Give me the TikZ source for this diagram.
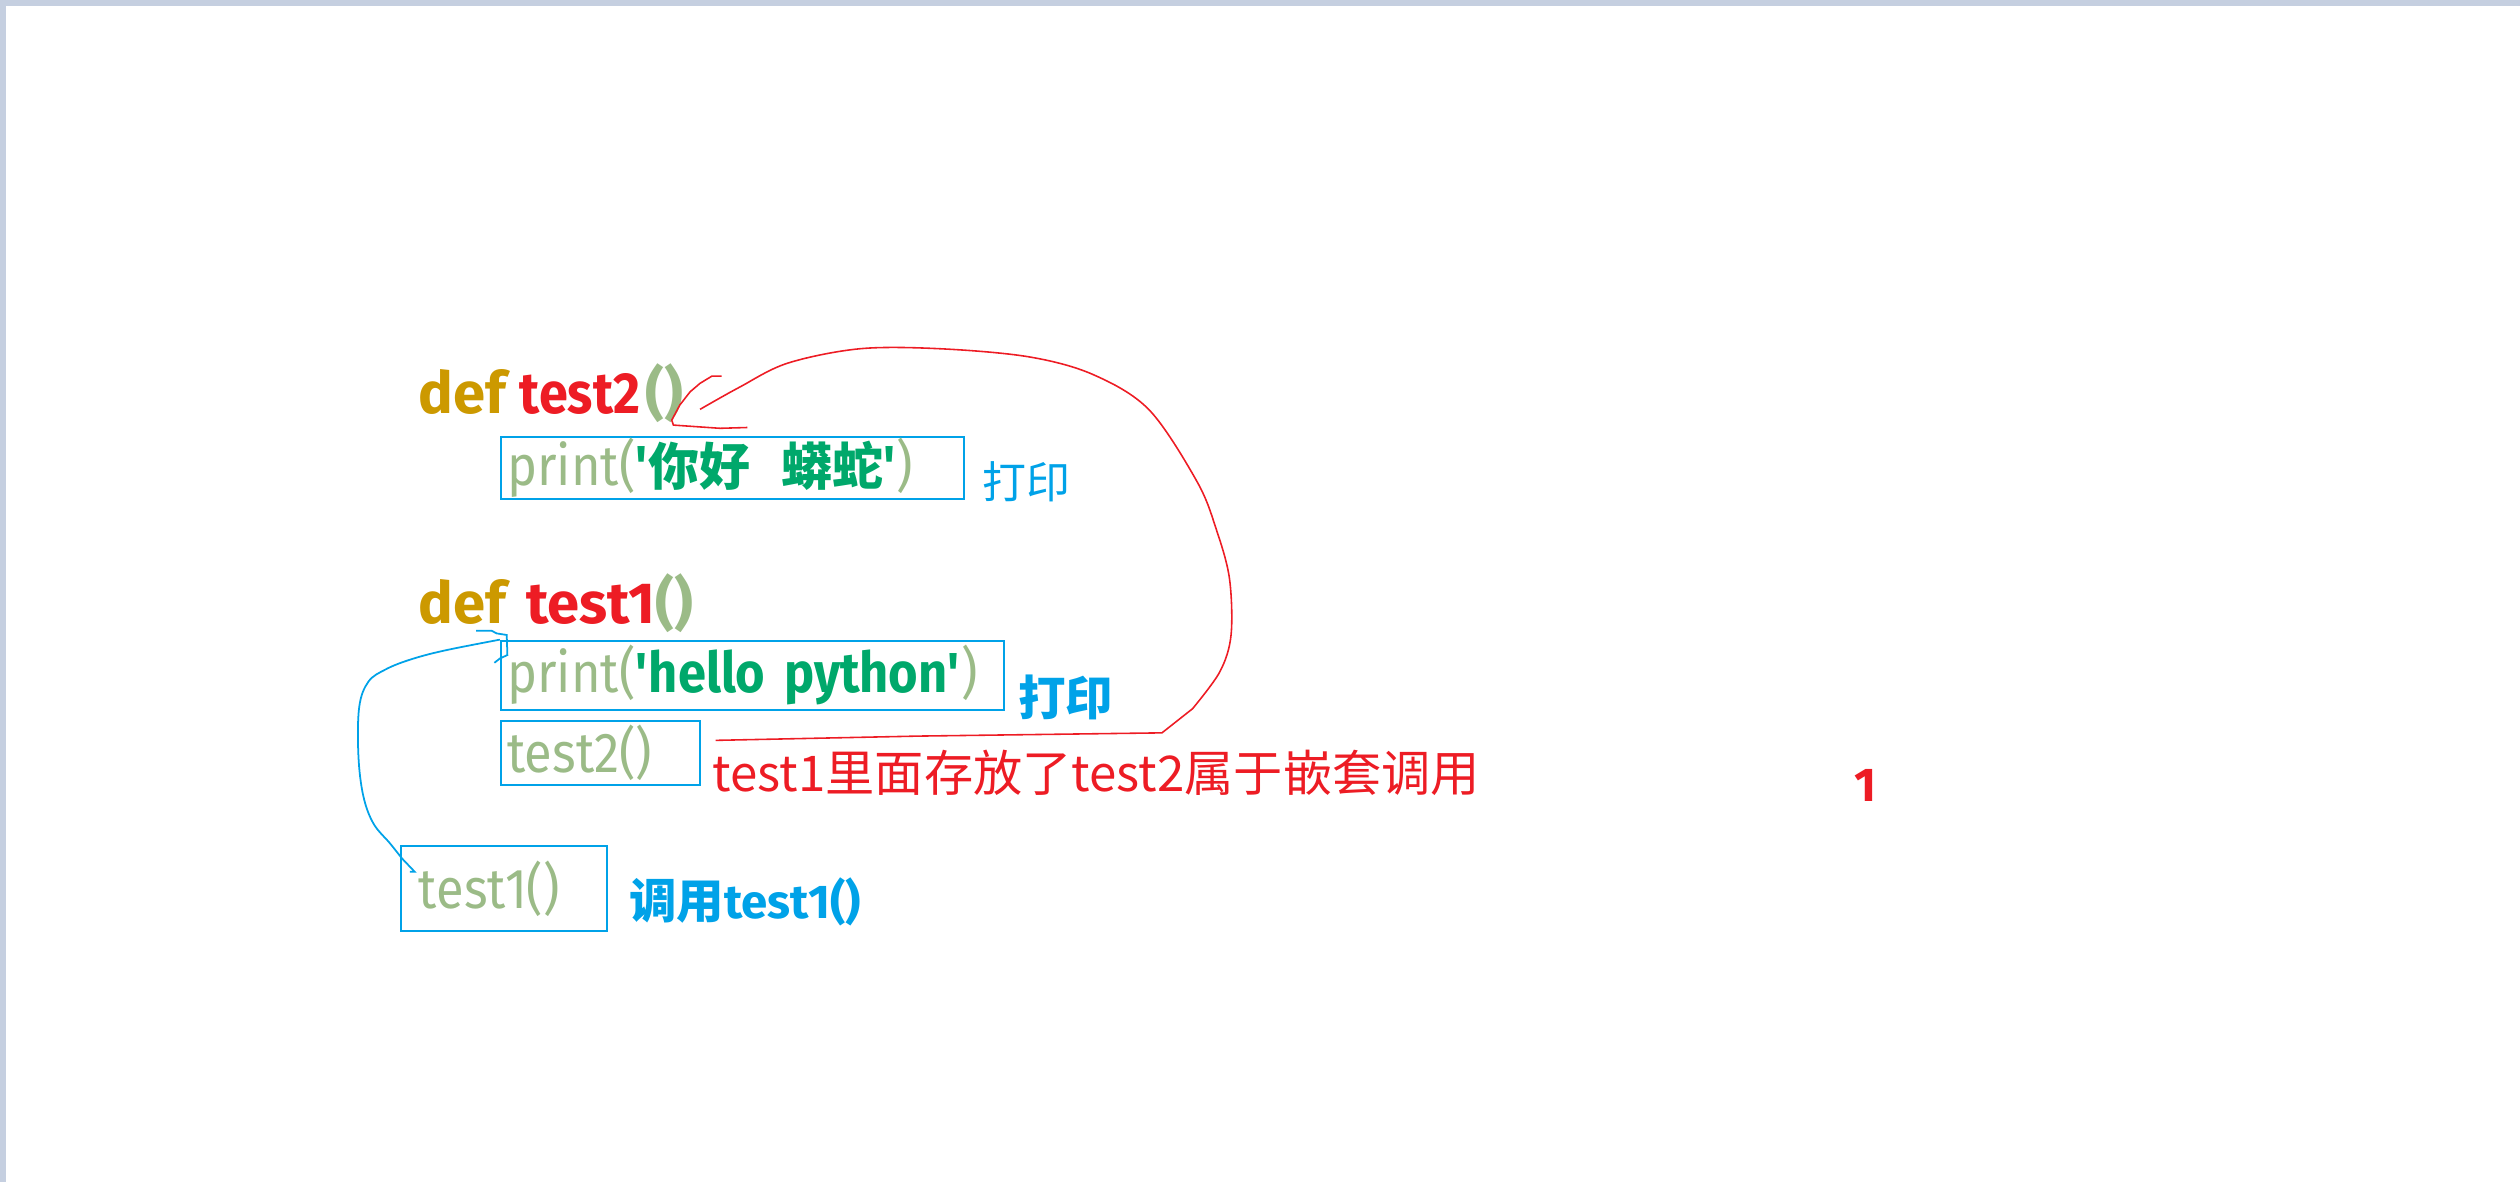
\documentclass[tikz,border=0pt]{standalone}
\usepackage{fontspec}
\setmainfont{Fira Sans}
\newfontfamily\codefont[FakeStretch=0.9]{Fira Sans}
\newfontfamily\cjk{Noto Sans CJK SC}
\usetikzlibrary{calc}

\definecolor{defgold}{RGB}{204,153,0}
\definecolor{namered}{RGB}{237,28,36}
\definecolor{parengreen}{RGB}{155,187,135}
\definecolor{strgreen}{RGB}{0,168,107}
\definecolor{paintblue}{RGB}{0,162,232}
\definecolor{framegray}{RGB}{197,207,224}

\newcommand{\codekw}[1]{{\color{defgold}#1}}
\newcommand{\codename}[1]{{\color{namered}#1}}
\newcommand{\codeplain}[1]{{\color{parengreen}#1}}
\newcommand{\codestr}[1]{{\color{strgreen}\bfseries#1}}

\begin{document}
\begin{tikzpicture}[x=0.01607cm,y=-0.01607cm,
  codebox/.style={draw=paintblue,line width=0.6pt,anchor=north west,inner xsep=0.064cm,inner ysep=0pt,align=left,font=\codefont\fontsize{16}{19}\selectfont},
  redpen/.style={draw=namered,line width=0.45pt},
  bluepen/.style={draw=paintblue,line width=0.5pt}]

% window frame
\fill[framegray] (0,0) rectangle (1568,3.7);
\fill[framegray] (0,0) rectangle (3.7,735.5);
\useasboundingbox (0,0) rectangle (1568,735.5);

% def test2
\node[anchor=base west,inner sep=0,font=\fontsize{16.5}{20}\selectfont\bfseries] (def2) at (260,257) {\codekw{def} {\codefont\codename{test2}}\hspace{0.1em}\codeplain{()}};
\node[codebox,text width=4.50cm,minimum height=0.627cm] (box1) at (311,271) {\codeplain{print(}\codestr{\textquotesingle}{\cjk\bfseries\color{strgreen}\fontsize{14.5}{17}\selectfont 你好\hspace{0.6em}蟒蛇}\codestr{\textquotesingle}\codeplain{)}};
\node[anchor=west,inner sep=0,text=paintblue,font=\cjk\fontsize{12.5}{15}\selectfont] (print2) at (611,300) {打印};

% def test1
\node[anchor=base west,inner sep=0,font=\fontsize{16.5}{20}\selectfont\bfseries] (def1) at (260,388) {\codekw{def}\hspace{0.35em}\codename{test1}\codeplain{()}};
\node[codebox,text width=4.901cm,minimum height=0.691cm] (box2) at (311,398) {\codeplain{print(}\codestr{\textquotesingle hello python\textquotesingle}\codeplain{)}};
\node[anchor=west,inner sep=0,text=paintblue,font=\cjk\bfseries\fontsize{13.5}{16}\selectfont] (print1) at (633,434) {打印};
\node[codebox,text width=1.864cm,minimum height=0.643cm] (box3) at (311,448) {\codeplain{test2()}};
\node[anchor=west,inner sep=0,text=namered,font=\cjk\fontsize{14}{17}\selectfont] (nested) at (443,481) {test1里面存放了test2属于嵌套调用};

\node[inner sep=0,text=namered,font=\bfseries\fontsize{13.5}{16}\selectfont] (one) at (1161,488.5) {1};

% call
\node[codebox,text width=1.703cm,inner xsep=0.177cm,minimum height=0.852cm] (box4) at (249,525.8) {\codeplain{test1()}};
\node[anchor=west,inner sep=0,text=paintblue,font=\bfseries\fontsize{13.5}{16}\selectfont] (call1) at (391,561) {{\cjk 调用}test1()};

% red line: test2() -> def test2
\coordinate (paren2) at (435.6,254.7);
\draw[redpen] ($(box3.east)+(9,-8)$) -- (572,458) -- (723,456) -- plot[smooth,tension=0.55] coordinates {(742,441) (759,418) (766,395) (765,360) (757,330) (745,300) (715,255) (680,233) (640,222) (585,217) (535,217) (490,226) (460,241) (paren2)};
\draw[redpen] (449,234) -- (443,234) -- (435.6,238.5) -- (429.4,243.8) -- (423,252) -- (418,261.4) -- (419,264.5) -- (448,266.5) -- (465,266);

% blue line: test1() -> def test1
\draw[bluepen] ($(box4.north west)+(6,16.6)$) -- ++(3,0) -- plot[smooth,tension=0.6] coordinates {(250,534) (242.7,524.8) (232.3,512.3) (226,495) (223,470) (223.5,440) (229.2,424.2) (240,416.5) (255,410.5) (276,404.9) (box2.north west)};
\draw[bluepen] (296.2,392.5) -- (306,392.5) -- (309,394.1) -- (315.3,395.1) -- (315.7,407.6) -- (311.1,409.7) -- (307.6,412.4);
\end{tikzpicture}
\end{document}
